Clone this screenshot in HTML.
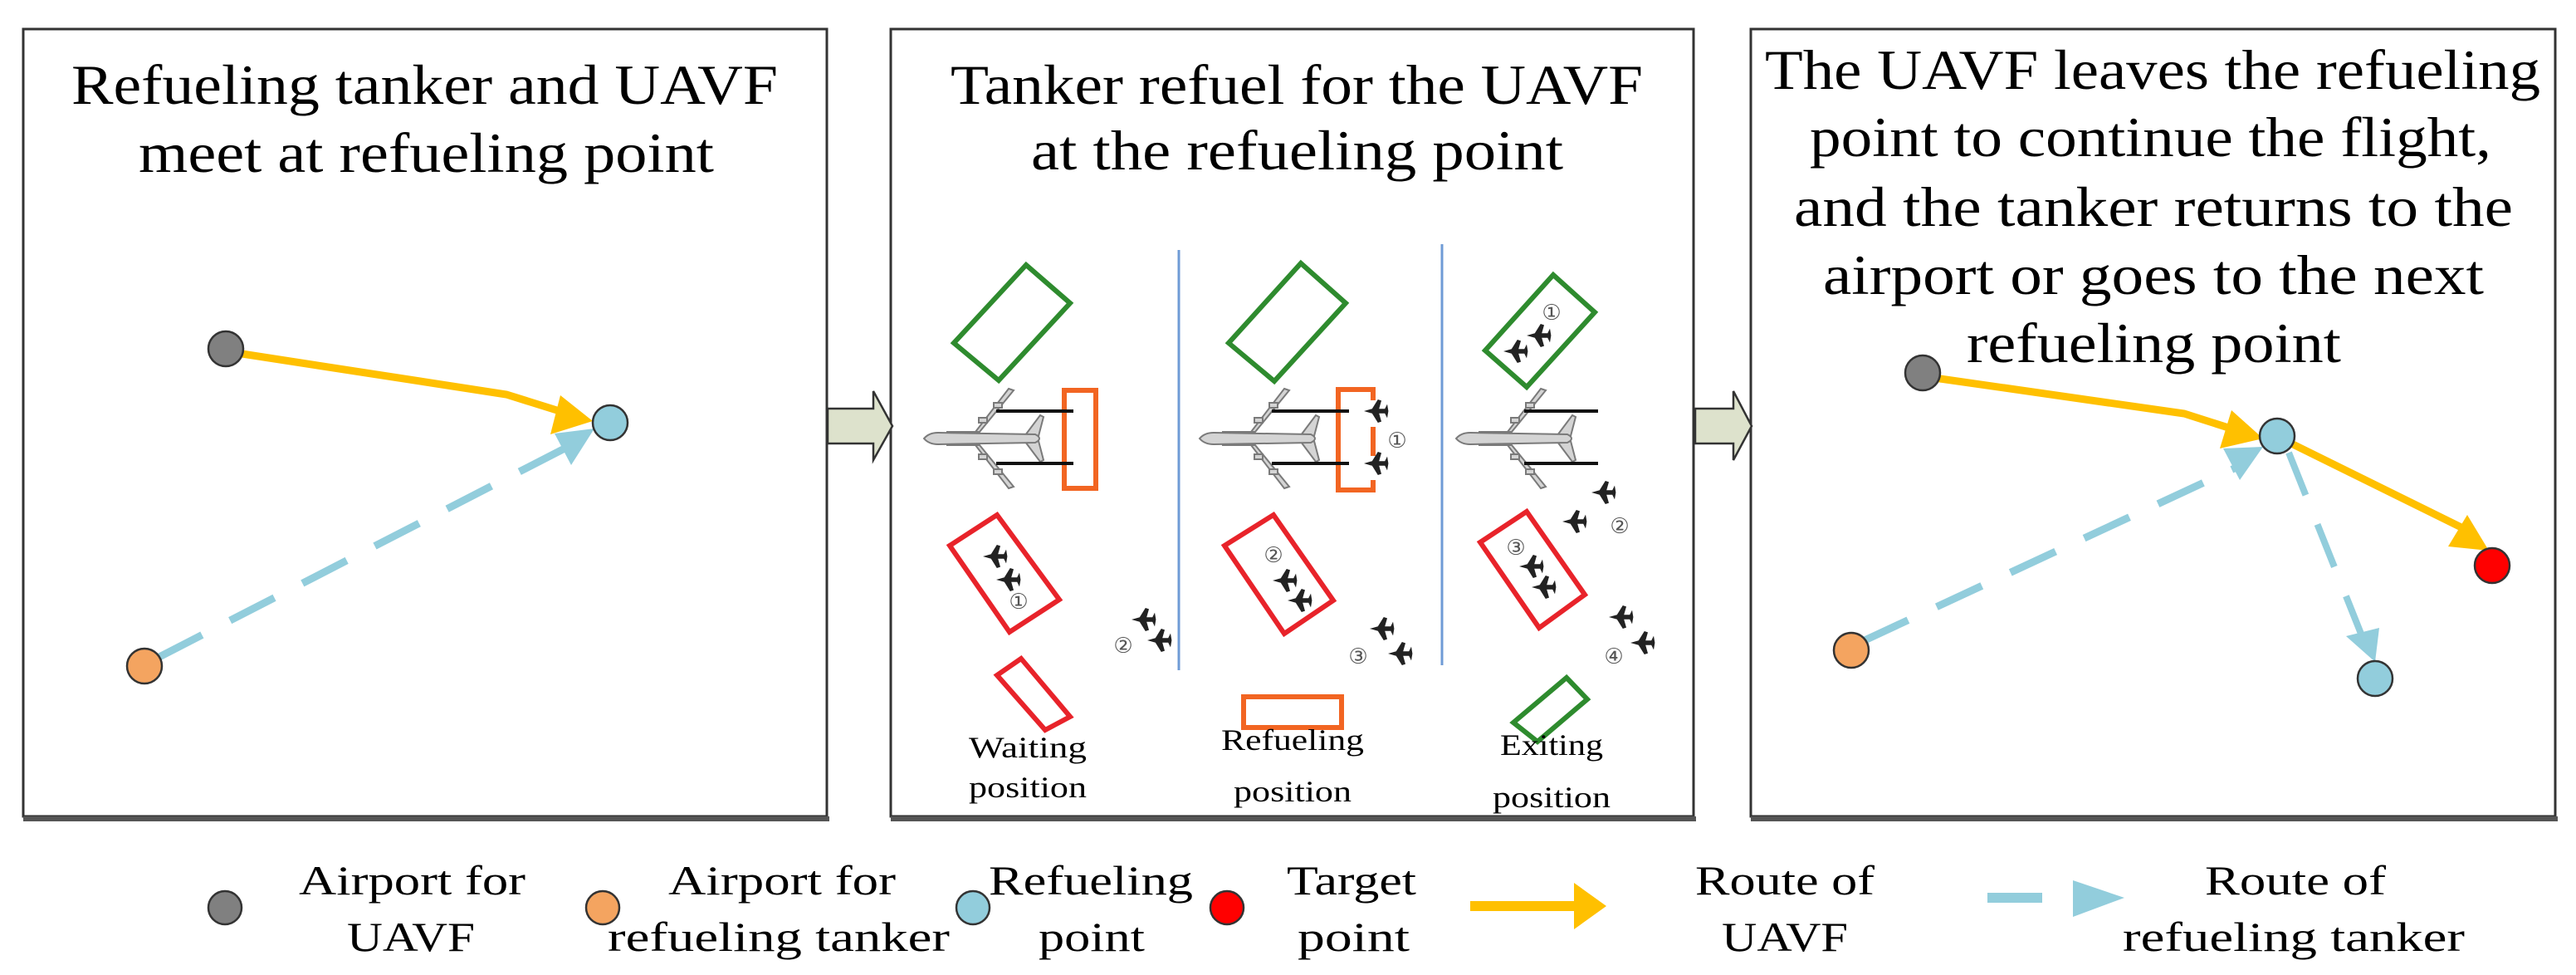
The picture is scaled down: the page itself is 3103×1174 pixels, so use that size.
<!DOCTYPE html>
<html><head><meta charset="utf-8"><style>html,body{margin:0;padding:0;background:#fff}svg{display:block}</style></head>
<body>
<svg width="3103" height="1174" viewBox="0 0 3103 1174" xmlns="http://www.w3.org/2000/svg" font-family="'Liberation Serif', serif">
<defs>
<g id="plane" fill="#d4d4d4" stroke="#7a7a7a" stroke-width="2">
  <path d="M30,-60 L36,-58 L-5,-8 L-45,-8 L-10,-8 Z"/>
  <path d="M30,60 L36,58 L-5,8 L-45,8 L-10,8 Z"/>
  <path d="M50,-4 L68,-28 L72,-26 L66,-3 Z"/>
  <path d="M50,4 L68,28 L72,26 L66,3 Z"/>
  <path d="M-72,0 Q-66,-7 -55,-7 L62,-5 Q72,0 62,5 L-55,7 Q-66,7 -72,0 Z"/>
  <rect x="12" y="-43" width="10" height="6"/><rect x="-6" y="-25" width="10" height="6"/>
  <rect x="12" y="37" width="10" height="6"/><rect x="-6" y="19" width="10" height="6"/>
</g>
<g id="jet" fill="#222"><path transform="scale(1.4)" d="M-10,0 L-3,-2 L2,-10 L5,-9 L3,-2 L8,-2 L10,-6 L11,0 L10,6 L8,2 L3,2 L5,9 L2,10 L-3,2 Z"/></g>
</defs>

<!-- panels -->
<g fill="none" stroke="#333" stroke-width="3">
<rect x="28" y="35" width="968" height="948"/>
<rect x="1073" y="35" width="967" height="948"/>
<rect x="2109" y="35" width="969" height="948"/>
</g>
<g stroke="#555" stroke-width="6">
<line x1="28" y1="986" x2="999" y2="986"/><line x1="1073" y1="986" x2="2043" y2="986"/><line x1="2109" y1="986" x2="3081" y2="986"/>
</g>

<!-- block arrows -->
<path d="M997,492 L1052,492 L1052,471 L1075,513 L1052,554 L1052,534 L997,534 Z" fill="#dde2cc" stroke="#333" stroke-width="2.5"/>
<path d="M2042,492 L2088,492 L2088,471 L2110,513 L2088,554 L2088,534 L2042,534 Z" fill="#dde2cc" stroke="#333" stroke-width="2.5"/>

<!-- titles -->
<g font-size="68" fill="#000" text-anchor="start">
<text x="86" y="125" textLength="851" lengthAdjust="spacingAndGlyphs">Refueling tanker and UAVF</text>
<text x="167" y="207" textLength="693" lengthAdjust="spacingAndGlyphs">meet at refueling point</text>
<text x="1145" y="125" textLength="834" lengthAdjust="spacingAndGlyphs">Tanker refuel for the UAVF</text>
<text x="1242" y="204" textLength="641" lengthAdjust="spacingAndGlyphs">at the refueling point</text>
<text x="2126" y="107" textLength="934" lengthAdjust="spacingAndGlyphs">The UAVF leaves the refueling</text>
<text x="2180" y="188" textLength="821" lengthAdjust="spacingAndGlyphs">point to continue the flight,</text>
<text x="2161" y="272" textLength="866" lengthAdjust="spacingAndGlyphs">and the tanker returns to the</text>
<text x="2196" y="354" textLength="796" lengthAdjust="spacingAndGlyphs">airport or goes to the next</text>
<text x="2369" y="436" textLength="451" lengthAdjust="spacingAndGlyphs">refueling point</text>
</g>

<!-- panel 1 routes -->
<polyline points="285,425 610,475 690,500" fill="none" stroke="#ffc000" stroke-width="9"/>
<polygon points="714,507 663,523 675,476" fill="#ffc000"/>
<line x1="190" y1="792" x2="680" y2="540" stroke="#92cddc" stroke-width="9" stroke-dasharray="60,38"/>
<polygon points="716,516 688,560 668,522" fill="#92cddc"/>
<g stroke="#333" stroke-width="2.5">
<circle cx="272" cy="420" r="21" fill="#808080"/>
<circle cx="735" cy="509" r="21" fill="#92cddc"/>
<circle cx="174" cy="802" r="21" fill="#f4a460"/>
</g>

<!-- panel 3 routes -->
<polyline points="2330,455 2631,498 2700,520" fill="none" stroke="#ffc000" stroke-width="9"/>
<polygon points="2726,528 2674,540 2688,494" fill="#ffc000"/>
<line x1="2756" y1="532" x2="2975" y2="640" stroke="#ffc000" stroke-width="9"/>
<polygon points="2998,663 2949,658 2972,620" fill="#ffc000"/>
<line x1="2244" y1="772" x2="2700" y2="560" stroke="#92cddc" stroke-width="9" stroke-dasharray="60,38"/>
<polygon points="2726,538 2698,578 2678,540" fill="#92cddc"/>
<line x1="2757" y1="545" x2="2850" y2="778" stroke="#92cddc" stroke-width="8" stroke-dasharray="55,38"/>
<polygon points="2861,797 2826,766 2866,756" fill="#92cddc"/>
<g stroke="#333" stroke-width="2.5">
<circle cx="2316" cy="449" r="21" fill="#808080"/>
<circle cx="2743" cy="525" r="21" fill="#92cddc"/>
<circle cx="3002" cy="681" r="21" fill="#ff0000"/>
<circle cx="2230" cy="783" r="21" fill="#f4a460"/>
<circle cx="2861" cy="817" r="21" fill="#92cddc"/>
</g>

<!-- panel 2 content -->
<g stroke="#6f9bd6" stroke-width="3"><line x1="1420" y1="301" x2="1420" y2="807"/><line x1="1737" y1="294" x2="1737" y2="801"/></g>
<g fill="none" stroke-width="6">
<polygon points="1236,319 1289,365 1203,458 1149,413" stroke="#2e8b2e"/>
<polygon points="1567,317 1621,365 1535,459 1480,413" stroke="#2e8b2e"/>
<polygon points="1871,331 1921,376 1839,466 1789,422" stroke="#2e8b2e"/>
<polygon points="1201,620 1276,722 1216,761 1144,657" stroke="#e8232a"/>
<polygon points="1534,620 1606,723 1547,763 1475,657" stroke="#e8232a"/>
<polygon points="1839,616 1909,716 1854,756 1783,653" stroke="#e8232a"/>
<polygon points="1230,793 1289,863 1259,879 1201,813" stroke="#e8232a"/>
<polygon points="1887,816 1912,842 1852,893 1823,870" stroke="#2e8b2e"/>
<rect x="1498" y="839" width="118" height="37" stroke="#f26522"/>
<rect x="1282" y="470" width="38" height="118" stroke="#f26522"/>
<path d="M1654,482 L1654,469 L1612,469 L1612,590 L1654,590 L1654,578 M1654,514 L1654,549" stroke="#f26522"/>
</g>
<use href="#plane" x="1185" y="528"/>
<use href="#plane" x="1517" y="528"/>
<use href="#plane" x="1826" y="528"/>
<g stroke="#111" stroke-width="4">
<line x1="1200" y1="495" x2="1293" y2="495"/><line x1="1200" y1="558" x2="1293" y2="558"/>
<line x1="1532" y1="495" x2="1625" y2="495"/><line x1="1532" y1="558" x2="1625" y2="558"/>
<line x1="1836" y1="495" x2="1925" y2="495"/><line x1="1836" y1="558" x2="1925" y2="558"/>
</g>
<use href="#jet" x="1198" y="670"/><use href="#jet" x="1214" y="698"/>
<use href="#jet" x="1377" y="746"/><use href="#jet" x="1396" y="771"/>
<use href="#jet" x="1657" y="495"/><use href="#jet" x="1657" y="558"/>
<use href="#jet" x="1547" y="699"/><use href="#jet" x="1565" y="723"/>
<use href="#jet" x="1664" y="757"/><use href="#jet" x="1686" y="787"/>
<use href="#jet" x="1853" y="404"/><use href="#jet" x="1825" y="423"/>
<use href="#jet" x="1931" y="593"/><use href="#jet" x="1896" y="628"/>
<use href="#jet" x="1844" y="682"/><use href="#jet" x="1859" y="707"/>
<use href="#jet" x="1952" y="743"/><use href="#jet" x="1978" y="774"/>
<g font-family="'DejaVu Sans', 'Noto Sans CJK SC', sans-serif" font-size="26" fill="#555" text-anchor="middle">
<text x="1227" y="733">①</text><text x="1353" y="786">②</text>
<text x="1683" y="539">①</text><text x="1534" y="677">②</text><text x="1636" y="799">③</text>
<text x="1869" y="385">①</text><text x="1951" y="642">②</text><text x="1826" y="668">③</text><text x="1944" y="799">④</text>
</g>
<g font-size="36" fill="#000" text-anchor="middle">
<text x="1238" y="912" textLength="142" lengthAdjust="spacingAndGlyphs">Waiting</text>
<text x="1238" y="960" textLength="142" lengthAdjust="spacingAndGlyphs">position</text>
<text x="1557" y="903" textLength="172" lengthAdjust="spacingAndGlyphs">Refueling</text>
<text x="1557" y="965" textLength="142" lengthAdjust="spacingAndGlyphs">position</text>
<text x="1869" y="909" textLength="124" lengthAdjust="spacingAndGlyphs">Exiting</text>
<text x="1869" y="972" textLength="142" lengthAdjust="spacingAndGlyphs">position</text>
</g>

<!-- legend -->
<g stroke="#333" stroke-width="2.5">
<circle cx="271" cy="1093" r="20" fill="#808080"/>
<circle cx="726" cy="1093" r="20" fill="#f4a460"/>
<circle cx="1172" cy="1093" r="20" fill="#92cddc"/>
<circle cx="1478" cy="1093" r="20" fill="#ff0000"/>
</g>
<line x1="1771" y1="1091" x2="1900" y2="1091" stroke="#ffc000" stroke-width="12"/>
<polygon points="1935,1091 1896,1063 1896,1119" fill="#ffc000"/>
<line x1="2394" y1="1081" x2="2460" y2="1081" stroke="#92cddc" stroke-width="12"/>
<polygon points="2559,1081 2497,1060 2497,1104" fill="#92cddc"/>
<g font-size="50" fill="#000">
<text x="360" y="1077" textLength="273" lengthAdjust="spacingAndGlyphs">Airport for</text>
<text x="418" y="1145" textLength="154" lengthAdjust="spacingAndGlyphs">UAVF</text>
<text x="805" y="1077" textLength="274" lengthAdjust="spacingAndGlyphs">Airport for</text>
<text x="732" y="1145" textLength="412" lengthAdjust="spacingAndGlyphs">refueling tanker</text>
<text x="1191" y="1077" textLength="246" lengthAdjust="spacingAndGlyphs">Refueling</text>
<text x="1251" y="1145" textLength="128" lengthAdjust="spacingAndGlyphs">point</text>
<text x="1550" y="1077" textLength="156" lengthAdjust="spacingAndGlyphs">Target</text>
<text x="1563" y="1145" textLength="135" lengthAdjust="spacingAndGlyphs">point</text>
<text x="2042" y="1077" textLength="216" lengthAdjust="spacingAndGlyphs">Route of</text>
<text x="2074" y="1145" textLength="152" lengthAdjust="spacingAndGlyphs">UAVF</text>
<text x="2656" y="1077" textLength="218" lengthAdjust="spacingAndGlyphs">Route of</text>
<text x="2557" y="1145" textLength="412" lengthAdjust="spacingAndGlyphs">refueling tanker</text>
</g>
</svg>
</body></html>
